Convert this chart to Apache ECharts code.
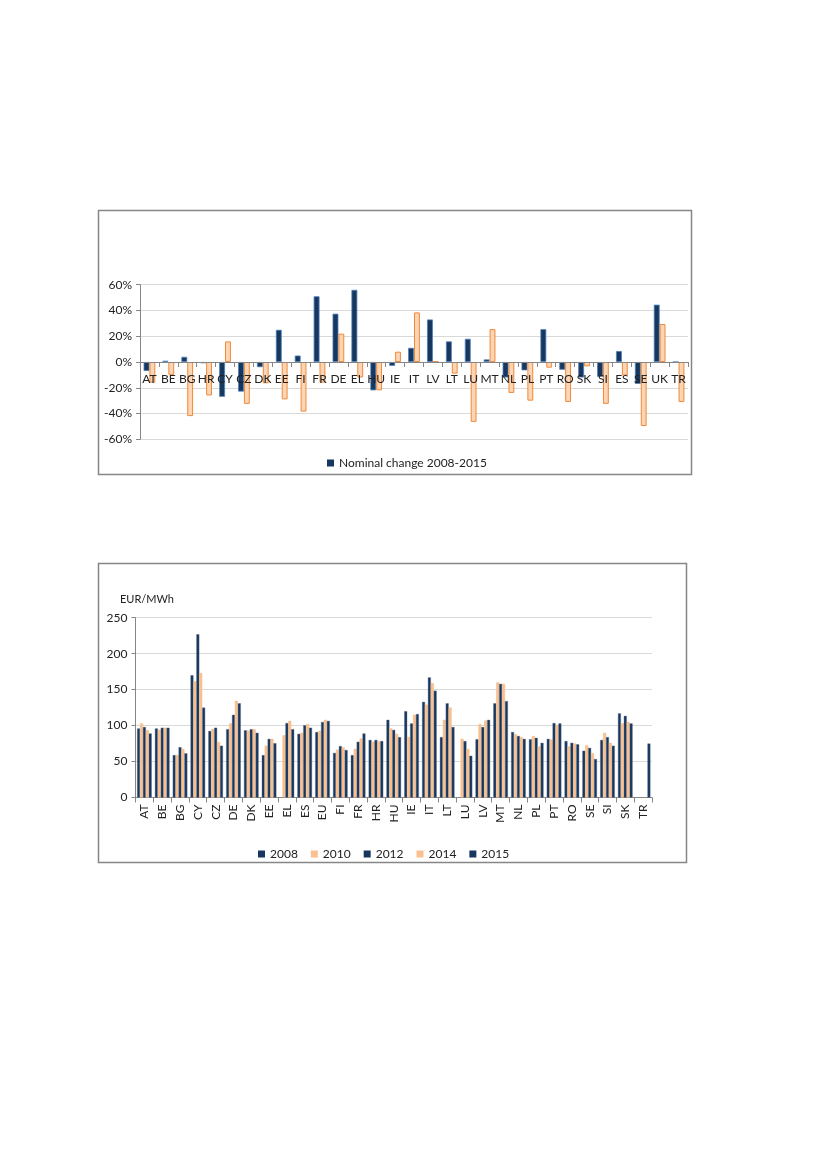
<!DOCTYPE html>
<html>
<head>
<meta charset="utf-8">
<script src="https://cdn.jsdelivr.net/npm/echarts@6/dist/echarts.min.js"></script>
<style>
html,body{margin:0;padding:0;background:#fff;}
#c{width:827px;height:1169px;}
</style>
</head>
<body>
<div id="c"></div>
<script>
// ---- Top chart data ----
const topCategories = ['AT','BE','BG','HR','CY','CZ','DK','EE','FI','FR','DE','EL','HU','IE','IT','LV','LT','LU','MT','NL','PL','PT','RO','SK','SI','ES','SE','UK','TR'];
const nominalChange = [-7, 1, 4, -1, -27, -23, -4, 25, 5, 51, 37.5, 56, -22, -3, 11, 33, 16, 18, 2, -12, -6.5, 25.5, -6, -12, -11.5, 8.5, -17, 44.5, 0];
const otherChange   = [-16, -10, -42, -26, 16, -32.5, -16.5, -29, -38.5, -16, 22, -12, -22, 8, 38.5, 0.5, -9, -46.5, 25.5, -24, -30, -4.4, -31, -3.4, -32.5, -10.5, -49.7, 29.5, -31];
const topTicks = [-60, -40, -20, 0, 20, 40, 60];

// ---- Bottom chart data ----
const bottomCategories = ['AT','BE','BG','CY','CZ','DE','DK','EE','EL','ES','EU','FI','FR','HR','HU','IE','IT','LT','LU','LV','MT','NL','PL','PT','RO','SE','SI','SK','TR'];
const years = ['2008','2010','2012','2014','2015'];
const price2008 = [96, 96, 59, 170, 92.5, 95, 93.5, 59, null, 88.5, 91, 62, 59, 80, 108, 120, 133, 84, null, 81, 131, 91, 81, 81.5, 78.5, 65, 80, 117, null];
const price2010 = [103, 94, 59, 161.5, 95, 103, 93, 72, 86.5, 90, 92.5, 66.5, 67.5, 77.5, 96, 84, 129, 108, 81.5, 102, 160, 88, 85.5, 80.5, 71, 72.5, 90, 103, null];
const price2012 = [98, 97, 70, 227, 97, 115, 95, 81.5, 103.5, 100.5, 105, 71.5, 77.5, 80, 94, 103, 167, 131, 78.5, 98, 158, 85.5, 83, 103.5, 76, 69, 84, 113.5, null];
const price2014 = [93.5, 97, 67.5, 173, 77, 134.5, 95, 81.5, 106.5, 102, 108, 69.5, 82, 78, 88.5, 115, 159, 125, 67.5, 107, 158, 84, 71, 100.5, 75, 61.5, 76, 105, null];
const price2015 = [89, 97, 61.5, 125, 72, 131, 90, 75.5, 95, 97, 106.5, 66, 89, 78.5, 84, 116, 148.5, 98, 58, 108, 134, 81.5, 76, 103, 74, 53.5, 72, 103, 75];
const bottomTicks = [0, 50, 100, 150, 200, 250];

const NAVY = '#17375E';
const NAVY_EDGE = '#4F81BD';
const PEACH = '#FCD5B4';
const PEACH_EDGE = '#EE8A3A';
const ORANGE = '#FAC090';
const FONT = 'Lato';

const chart = echarts.init(document.getElementById('c'), null, {renderer: 'canvas'});
const bottomData = [price2008, price2010, price2012, price2014, price2015];
const bottomColors = [NAVY, ORANGE, NAVY, ORANGE, NAVY];

const TOP_Y0 = 284.7, TOP_Y1 = 439.3;

const option = {
  backgroundColor: '#fff',
  animation: false,
  textStyle: {fontFamily: FONT},
  graphic: [
    {type: 'rect', shape: {x: 98.5, y: 210.5, width: 593, height: 264}, style: {fill: 'none', stroke: '#868686', lineWidth: 1.5}, z: 0},
    {type: 'rect', shape: {x: 98.5, y: 563.5, width: 588, height: 299}, style: {fill: 'none', stroke: '#868686', lineWidth: 1.5}, z: 0},
    {type: 'text', left: 120, top: 594, style: {text: 'EUR/MWh', font: '11px Lato', fill: '#222'}}
  ],
  legend: [
    {
      data: ['Nominal change 2008-2015'],
      left: 322, top: 452,
      itemWidth: 7, itemHeight: 7, icon: 'rect',
      itemStyle: {borderWidth: 0},
      textStyle: {fontFamily: FONT, fontSize: 12, color: '#222'}
    },
    {
      data: years.map(y => 'y' + y),
      formatter: n => n.slice(1),
      left: 253, top: 843,
      itemWidth: 7, itemHeight: 7, icon: 'rect', itemGap: 13,
      itemStyle: {borderWidth: 0},
      textStyle: {fontFamily: FONT, fontSize: 12, color: '#222'}
    }
  ],
  grid: [
    {left: 140, right: 139, top: TOP_Y0, bottom: 1169 - TOP_Y1, containLabel: false},
    {left: 135.5, right: 175, top: 617.7, bottom: 1169 - 797.5, containLabel: false}
  ],
  xAxis: [
    {
      type: 'category', gridIndex: 0, data: topCategories,
      position: 'bottom', z: 10,
      offset: -(TOP_Y1 - TOP_Y0) / 2,
      axisLine: {onZero: false, lineStyle: {color: '#868686', width: 1}},
      axisTick: {show: true, alignWithLabel: false, length: 5, inside: false, lineStyle: {color: '#868686'}},
      axisLabel: {interval: 0, fontFamily: FONT, fontSize: 12, color: '#222', margin: 11}
    },
    {
      type: 'category', gridIndex: 1, data: bottomCategories,
      axisLine: {lineStyle: {color: '#868686', width: 1}},
      axisTick: {show: true, alignWithLabel: false, length: 5, lineStyle: {color: '#868686'}},
      axisLabel: {interval: 0, rotate: 90, fontFamily: FONT, fontSize: 12, color: '#222', margin: 7}
    }
  ],
  yAxis: [
    {
      type: 'value', gridIndex: 0, min: -60, max: 60, interval: 20,
      axisLine: {show: true, lineStyle: {color: '#868686'}},
      axisTick: {show: true, length: 4, lineStyle: {color: '#868686'}},
      splitLine: {lineStyle: {color: '#D9D9D9'}},
      axisLabel: {formatter: v => topTicks.includes(v) ? v + '%' : '', fontFamily: FONT, fontSize: 12, color: '#222', margin: 8}
    },
    {
      type: 'value', gridIndex: 1, min: 0, max: 250, interval: 50,
      axisLine: {show: true, lineStyle: {color: '#868686'}},
      axisTick: {show: true, length: 4, lineStyle: {color: '#868686'}},
      splitLine: {lineStyle: {color: '#D9D9D9'}},
      axisLabel: {formatter: v => bottomTicks.includes(v) ? String(v) : '', fontFamily: FONT, fontSize: 12, color: '#222', margin: 8}
    }
  ],
  series: [
    {
      name: 'Nominal change 2008-2015', type: 'bar', xAxisIndex: 0, yAxisIndex: 0,
      data: nominalChange, barGap: '0%', barCategoryGap: '38%',
      itemStyle: {color: NAVY, borderColor: NAVY_EDGE, borderWidth: 0.8}
    },
    {
      name: 'Real change 2008-2015', type: 'bar', xAxisIndex: 0, yAxisIndex: 0,
      data: otherChange, barGap: '0%', barCategoryGap: '38%',
      itemStyle: {color: PEACH, borderColor: PEACH_EDGE, borderWidth: 1}
    }
  ].concat(years.map((y, i) => ({
    name: 'y' + y, type: 'bar', xAxisIndex: 1, yAxisIndex: 1,
    data: bottomData[i], barGap: '0%', barCategoryGap: '18%',
    itemStyle: {color: bottomColors[i], borderColor: i % 2 === 0 ? '#5A6F8C' : '#F3B27A', borderWidth: 0.4}
  })))
};
chart.setOption(option);
</script>
</body>
</html>
